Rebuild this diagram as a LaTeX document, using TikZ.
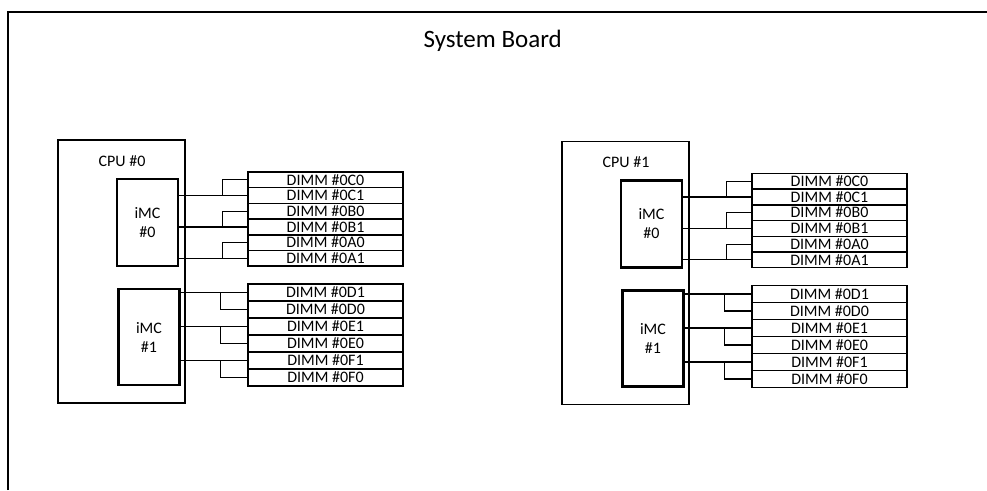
\documentclass[tikz,border=0pt]{standalone}
\usepackage{fontspec}
\setmainfont{Carlito}
\begin{document}
\begin{tikzpicture}[x=1pt, y=-1pt, line width=1.2pt, font=\fontsize{16}{19}\selectfont,
  cpubox/.style={draw, line width=1.3pt, minimum width=127pt, minimum height=263pt, inner sep=0pt},
  imcbox/.style={draw, line width=2.4pt, minimum width=61pt, align=center, inner sep=0pt},
  dimm/.style={draw, line width=1.5pt, minimum width=155pt, minimum height=#1, inner sep=0pt, text height=10.3pt, text depth=0pt}]
  \useasboundingbox (0,0) rectangle (987,490);
  % board outline runs off the page at right and bottom
  \draw[line width=1.4pt] (8,490) |- (987,12);
  \node[anchor=base west, inner sep=0pt, font=\fontsize{25}{30}\selectfont] (title) at (423,47) {System Board};
  \foreach \c/\dx/\dy in {0/0/0, 1/504/1.5} {
    \begin{scope}[shift={(\dx,\dy)}]
      \node[cpubox] (cpu\c) at (121.5,271.5) {};
      \node (cpu\c-name) at (122,161) {CPU \#\c};
      \node[imcbox, minimum height=87pt] (imc\c-0) at (147.5,222.5) {iMC\\\#0};
      \node[imcbox, minimum height=96pt] (imc\c-1) at (149,337) {iMC\\\#1};
      \foreach \d [count=\i from 0] in {C0,C1,B0,B1,A0,A1}
        \node[dimm=15.7pt] (d\c-\d) at (325.5,{172+15.7*(\i+0.5)}) {DIMM \#0\d};
      \foreach \d [count=\i from 0] in {D1,D0,E1,E0,F1,F0}
        \node[dimm=17pt] (d\c-\d) at (325.5,{284+17*(\i+0.5)}) {DIMM \#0\d};
      % channels of iMC #0 feed the lower slot, branch up
      \foreach \a/\b in {C1/C0, B1/B0, A1/A0} {
        \draw (imc\c-0.east |- d\c-\a.west) -- (d\c-\a.west);
        \draw (imc\c-0.east |- d\c-\a.west) ++(43,0) |- (d\c-\b.west);
      }
      % channels of iMC #1 feed the upper slot, branch down
      \foreach \a/\b in {D1/D0, E1/E0, F1/F0} {
        \draw (imc\c-1.east |- d\c-\a.west) -- (d\c-\a.west);
        \draw (imc\c-1.east |- d\c-\a.west) ++(40,0) |- (d\c-\b.west);
      }
    \end{scope}
  }
\end{tikzpicture}
\end{document}
